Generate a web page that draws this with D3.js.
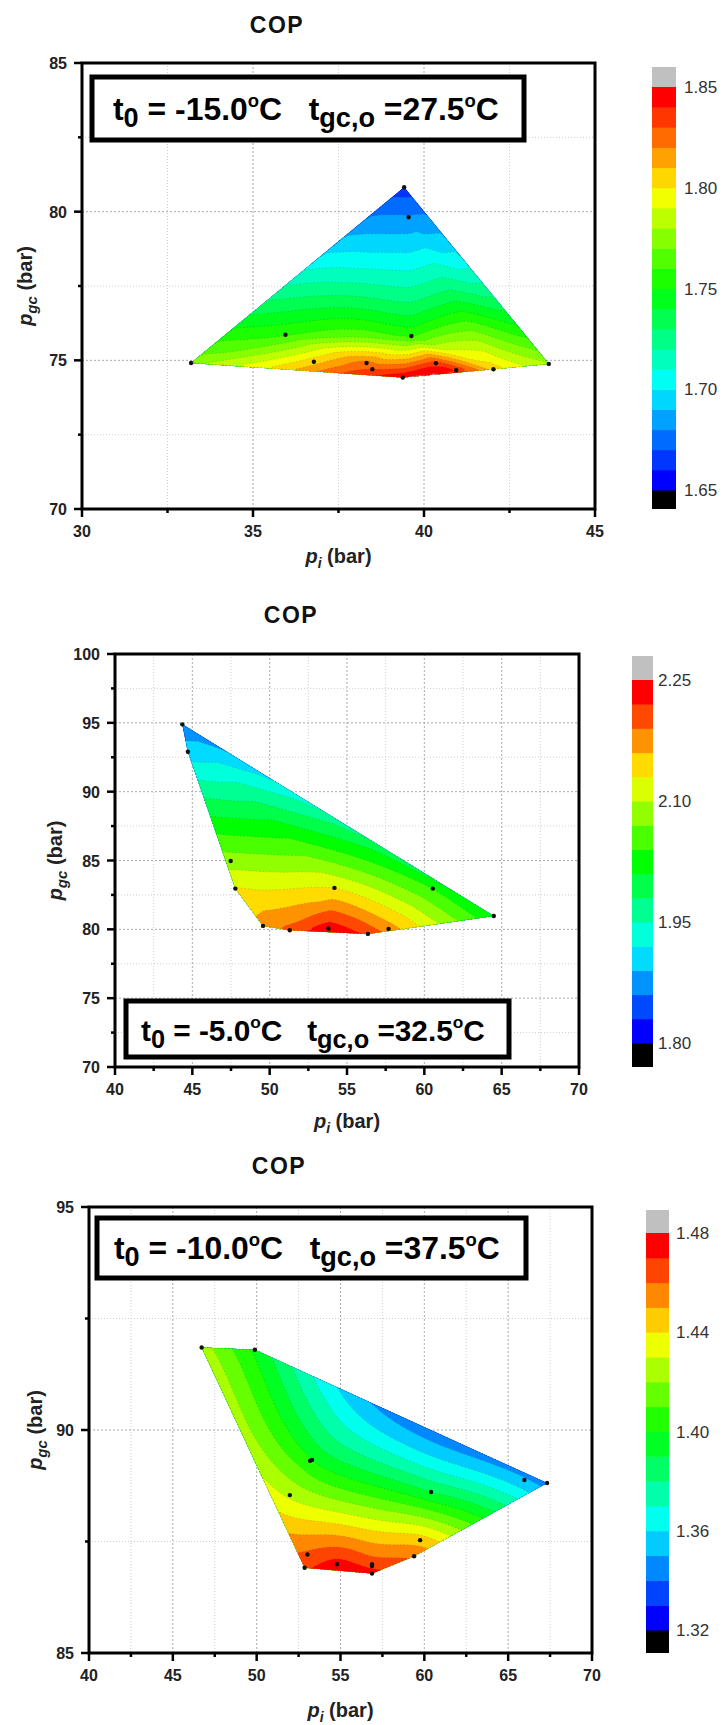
<!DOCTYPE html>
<html>
<head>
<meta charset="utf-8">
<script src="https://cdn.jsdelivr.net/npm/d3@7"></script>
<style>
  body { margin: 0; background: #fff; }
</style>
</head>
<body>
<script>
// ---- panel 1 : t0 = -15.0, tgc,o = 27.5 ----
var p1Pi  = [39.42, 39.55, 35.95, 39.63, 33.19, 36.78, 38.32, 38.49, 39.38, 40.35, 40.94, 42.03, 43.65];
var p1Pgc = [80.82, 79.81, 75.86, 75.82, 74.91, 74.95, 74.91, 74.70, 74.42, 74.90, 74.67, 74.70, 74.88];
var p1COP = [1.664, 1.681, 1.759, 1.759, 1.777, 1.806, 1.824, 1.830, 1.849, 1.836, 1.840, 1.806, 1.781];
var p1XTicks = [30, 35, 40, 45], p1XMinor = [32.5, 37.5, 42.5];
var p1YTicks = [70, 75, 80, 85], p1YMinor = [72.5, 77.5, 82.5];
var p1CbTicks = [1.65, 1.70, 1.75, 1.80, 1.85];

// ---- panel 2 : t0 = -5.0, tgc,o = 32.5 ----
var p2Pi  = [44.35, 44.71, 47.48, 47.78, 49.57, 51.30, 53.80, 56.35, 57.69, 54.19, 60.55, 64.49];
var p2Pgc = [94.89, 92.90, 84.96, 82.96, 80.25, 79.93, 80.06, 79.67, 80.03, 83.01, 82.96, 80.97];
var p2COP = [1.868, 1.905, 2.085, 2.132, 2.172, 2.200, 2.236, 2.212, 2.175, 2.130, 2.040, 2.015];
var p2XTicks = [40, 45, 50, 55, 60, 65, 70], p2XMinor = [42.5, 47.5, 52.5, 57.5, 62.5, 67.5];
var p2YTicks = [70, 75, 80, 85, 90, 95, 100], p2YMinor = [72.5, 77.5, 82.5, 87.5, 92.5, 97.5];
var p2CbTicks = [1.80, 1.95, 2.10, 2.25];

// ---- panel 3 : t0 = -10.0, tgc,o = 37.5 ----
var p3Pi  = [46.72, 49.89, 53.19, 53.30, 51.98, 60.40, 65.97, 67.32, 59.75, 59.39, 53.03, 52.86, 54.79, 56.88, 56.88, 56.88];
var p3Pgc = [91.85, 91.80, 89.31, 89.33, 88.54, 88.61, 88.88, 88.81, 87.53, 87.17, 87.21, 86.91, 86.99, 86.99, 86.95, 86.78];
var p3COP = [1.425, 1.398, 1.402, 1.400, 1.428, 1.390, 1.352, 1.345, 1.445, 1.458, 1.462, 1.468, 1.474, 1.466, 1.468, 1.474];
var p3XTicks = [40, 45, 50, 55, 60, 65, 70], p3XMinor = [42.5, 47.5, 52.5, 57.5, 62.5, 67.5];
var p3YTicks = [85, 90, 95], p3YMinor = [87.5, 92.5];
var p3CbTicks = [1.32, 1.36, 1.40, 1.44, 1.48];

var FONT = "'Liberation Sans', Arial, Helvetica, sans-serif";

// lin = share of the triangulated (linear) surface, the rest is a thin plate spline
var panels = [
  { pi: p1Pi, pgc: p1Pgc, cop: p1COP, xDom: [30, 45], yDom: [70, 85], lin: 0.6,
    xTicks: p1XTicks, xMinor: p1XMinor, yTicks: p1YTicks, yMinor: p1YMinor,
    cbDom: [1.65, 1.85], cbStep: 0.01, cbTicks: p1CbTicks, t0: "-15.0", tgc: "27.5",
    L: 82, R: 595, T: 63, B: 509, titleX: 277, titleY: 33,
    box: [92, 77, 524, 140], textX: 113, textW: 386, textY: 120, textSize: 32,
    cbX: 652, cbW: 24, cbTop: 67, cbHi: 87, cbLo: 490, cbBottom: 509, cbLabX: 684,
    yLabX: 25, xLabY: 563 },
  { pi: p2Pi, pgc: p2Pgc, cop: p2COP, xDom: [40, 70], yDom: [70, 100], lin: 0.5,
    xTicks: p2XTicks, xMinor: p2XMinor, yTicks: p2YTicks, yMinor: p2YMinor,
    cbDom: [1.80, 2.25], cbStep: 0.03, cbTicks: p2CbTicks, t0: "-5.0", tgc: "32.5",
    L: 115, R: 579, T: 654, B: 1067, titleX: 291, titleY: 623,
    box: [126, 1001, 509, 1057], textX: 141, textW: 344, textY: 1041, textSize: 30,
    cbX: 632, cbW: 21, cbTop: 656, cbHi: 680, cbLo: 1043, cbBottom: 1067, cbLabX: 658,
    yLabX: 55, xLabY: 1128 },
  { pi: p3Pi, pgc: p3Pgc, cop: p3COP, xDom: [40, 70], yDom: [85, 95], lin: 0,
    xTicks: p3XTicks, xMinor: p3XMinor, yTicks: p3YTicks, yMinor: p3YMinor,
    cbDom: [1.32, 1.48], cbStep: 0.01, cbTicks: p3CbTicks, t0: "-10.0", tgc: "37.5",
    L: 89, R: 592, T: 1207, B: 1653, titleX: 279, titleY: 1174,
    box: [97, 1218, 526, 1278], textX: 114, textW: 386, textY: 1259, textSize: 32,
    cbX: 646, cbW: 23, cbTop: 1210, cbHi: 1233, cbLo: 1630, cbBottom: 1653, cbLabX: 676,
    yLabX: 35, xLabY: 1717 }
];

var jet = d3.scaleLinear()
  .domain([0, 0.25, 0.5, 0.75, 1])
  .range(["#0000ff", "#00ffff", "#00ff00", "#ffff00", "#ff0000"]);

var svg = d3.select("body").append("svg")
  .attr("width", 724).attr("height", 1725)
  .style("font-family", FONT);

// thin plate spline through the measured points (screen coords / 100)
function fitTPS(pts, lam) {
  var n = pts.length, m = n + 3;
  var U = function(r2) { return r2 > 0 ? 0.5 * r2 * Math.log(r2) : 0; };
  var A = [];
  for (var i = 0; i < m; i++) A.push(new Float64Array(m + 1));
  for (i = 0; i < n; i++) {
    for (var j = 0; j < n; j++) {
      var dx = pts[i][0] - pts[j][0], dy = pts[i][1] - pts[j][1];
      A[i][j] = U(dx * dx + dy * dy) + (i === j ? lam : 0);
    }
    A[i][n] = 1; A[i][n + 1] = pts[i][0]; A[i][n + 2] = pts[i][1];
    A[n][i] = 1; A[n + 1][i] = pts[i][0]; A[n + 2][i] = pts[i][1];
    A[i][m] = pts[i][2];
  }
  for (var c = 0; c < m; c++) {
    var piv = c;
    for (var r = c + 1; r < m; r++) if (Math.abs(A[r][c]) > Math.abs(A[piv][c])) piv = r;
    var tmp = A[c]; A[c] = A[piv]; A[piv] = tmp;
    for (r = 0; r < m; r++) {
      if (r === c) continue;
      var f = A[r][c] / A[c][c];
      if (f === 0) continue;
      for (var k = c; k <= m; k++) A[r][k] -= f * A[c][k];
    }
  }
  var w = [];
  for (i = 0; i < m; i++) w.push(A[i][m] / A[i][i]);
  return function(x, y) {
    var s = w[n] + w[n + 1] * x + w[n + 2] * y;
    for (var i = 0; i < n; i++) {
      var dx = x - pts[i][0], dy = y - pts[i][1];
      s += w[i] * U(dx * dx + dy * dy);
    }
    return s;
  };
}

function drawPanel(P, idx) {
  var x = d3.scaleLinear().domain(P.xDom).range([P.L, P.R]);
  var y = d3.scaleLinear().domain(P.yDom).range([P.B, P.T]);
  var g = svg.append("g");

  // title
  g.append("text").attr("x", P.titleX).attr("y", P.titleY)
    .attr("text-anchor", "middle").attr("font-weight", "bold")
    .attr("font-size", 23).style("letter-spacing", "1.5px").attr("fill", "#111")
    .text("COP");

  // dotted grid
  P.xMinor.concat(P.xTicks).forEach(function(v) {
    if (v <= P.xDom[0] || v >= P.xDom[1]) return;
    var major = P.xTicks.indexOf(v) >= 0;
    g.append("line").attr("x1", x(v)).attr("x2", x(v)).attr("y1", P.T).attr("y2", P.B)
      .attr("stroke", major ? "#aaa" : "#cfcfcf").attr("stroke-width", 1)
      .attr("stroke-dasharray", major ? "2,2" : "1,2");
  });
  P.yMinor.concat(P.yTicks).forEach(function(v) {
    if (v <= P.yDom[0] || v >= P.yDom[1]) return;
    var major = P.yTicks.indexOf(v) >= 0;
    g.append("line").attr("y1", y(v)).attr("y2", y(v)).attr("x1", P.L).attr("x2", P.R)
      .attr("stroke", major ? "#aaa" : "#cfcfcf").attr("stroke-width", 1)
      .attr("stroke-dasharray", major ? "2,2" : "1,2");
  });

  // surface on a 2px grid: triangulated values blended with a spline
  var pts = P.pi.map(function(d, i) { return [x(d), y(P.pgc[i]), P.cop[i]]; });
  var tps = fitTPS(pts.map(function(p) { return [p[0] / 100, p[1] / 100, p[2]]; }), 0.0005);
  var step = 2;
  var nx = Math.floor((P.R - P.L) / step) + 1, ny = Math.floor((P.B - P.T) / step) + 1;
  var values = new Array(nx * ny);
  for (var j = 0; j < ny; j++)
    for (var i = 0; i < nx; i++)
      values[i + j * nx] = tps((P.L + i * step) / 100, (P.T + j * step) / 100);

  if (P.lin > 0) {
    var del = d3.Delaunay.from(pts, function(p) { return p[0]; }, function(p) { return p[1]; });
    var tri = del.triangles;
    for (var t = 0; t < tri.length; t += 3) {
      var a = pts[tri[t]], b = pts[tri[t + 1]], c = pts[tri[t + 2]];
      var den = (b[1] - c[1]) * (a[0] - c[0]) + (c[0] - b[0]) * (a[1] - c[1]);
      if (Math.abs(den) < 1e-9) continue;
      var i0 = Math.max(0, Math.floor((Math.min(a[0], b[0], c[0]) - P.L) / step));
      var i1 = Math.min(nx - 1, Math.ceil((Math.max(a[0], b[0], c[0]) - P.L) / step));
      var j0 = Math.max(0, Math.floor((Math.min(a[1], b[1], c[1]) - P.T) / step));
      var j1 = Math.min(ny - 1, Math.ceil((Math.max(a[1], b[1], c[1]) - P.T) / step));
      for (j = j0; j <= j1; j++) for (i = i0; i <= i1; i++) {
        var px = P.L + i * step, py = P.T + j * step;
        var l1 = ((b[1] - c[1]) * (px - c[0]) + (c[0] - b[0]) * (py - c[1])) / den;
        var l2 = ((c[1] - a[1]) * (px - c[0]) + (a[0] - c[0]) * (py - c[1])) / den;
        var l3 = 1 - l1 - l2;
        if (l1 < -1e-6 || l2 < -1e-6 || l3 < -1e-6) continue;
        var lv = l1 * a[2] + l2 * b[2] + l3 * c[2];
        var k = i + j * nx;
        values[k] = P.lin * lv + (1 - P.lin) * values[k];
      }
    }
  }

  var nb = Math.round((P.cbDom[1] - P.cbDom[0]) / P.cbStep);
  var levels = d3.range(nb + 1).map(function(k) { return +(P.cbDom[0] + k * P.cbStep).toFixed(4); });
  var bandColor = function(k) { return k >= nb ? "#c0c0c0" : jet(k / (nb - 1)); };

  var contours = d3.contours().size([nx, ny]).thresholds(levels)(values);
  var proj = d3.geoTransform({ point: function(px, py) {
    this.stream.point(P.L + (px - 0.5) * step, P.T + (py - 0.5) * step);
  }});
  var path = d3.geoPath(proj);

  var hull = d3.polygonHull(pts.map(function(p) { return [p[0], p[1]]; }));
  var hullD = "M" + hull.join("L") + "Z";
  svg.append("clipPath").attr("id", "hull" + idx).append("path").attr("d", hullD);

  var cg = g.append("g").attr("clip-path", "url(#hull" + idx + ")");
  cg.append("path").attr("d", hullD).attr("fill", "#000");
  cg.selectAll("path.band").data(contours).enter().append("path")
    .attr("class", "band")
    .attr("d", path)
    .attr("fill", function(d, k) { return bandColor(k); })
    .attr("stroke", "rgba(0,0,0,0.22)").attr("stroke-width", 0.7)
    .attr("stroke-dasharray", "1.5,2");
  g.append("path").attr("d", hullD).attr("fill", "none")
    .attr("stroke", "rgba(0,0,0,0.3)").attr("stroke-width", 0.8).attr("stroke-dasharray", "1.5,2");

  // data points
  g.selectAll("circle").data(pts).enter().append("circle")
    .attr("cx", function(p) { return p[0]; }).attr("cy", function(p) { return p[1]; })
    .attr("r", 2.2).attr("fill", "#111");

  // frame + ticks
  g.append("rect").attr("x", P.L).attr("y", P.T).attr("width", P.R - P.L).attr("height", P.B - P.T)
    .attr("fill", "none").attr("stroke", "#000").attr("stroke-width", 3);
  P.xTicks.forEach(function(v) {
    g.append("line").attr("x1", x(v)).attr("x2", x(v)).attr("y1", P.B).attr("y2", P.B + 8)
      .attr("stroke", "#000").attr("stroke-width", 2.5);
    g.append("text").attr("x", x(v)).attr("y", P.B + 28).attr("text-anchor", "middle")
      .attr("font-size", 16).attr("font-weight", "bold").attr("fill", "#222").text(v);
  });
  P.xMinor.forEach(function(v) {
    g.append("line").attr("x1", x(v)).attr("x2", x(v)).attr("y1", P.B).attr("y2", P.B + 4)
      .attr("stroke", "#000").attr("stroke-width", 2.5);
  });
  P.yTicks.forEach(function(v) {
    g.append("line").attr("x1", P.L - 8).attr("x2", P.L).attr("y1", y(v)).attr("y2", y(v))
      .attr("stroke", "#000").attr("stroke-width", 2.5);
    g.append("text").attr("x", P.L - 15).attr("y", y(v) + 6).attr("text-anchor", "end")
      .attr("font-size", 16).attr("font-weight", "bold").attr("fill", "#222").text(v);
  });
  P.yMinor.forEach(function(v) {
    g.append("line").attr("x1", P.L - 4).attr("x2", P.L).attr("y1", y(v)).attr("y2", y(v))
      .attr("stroke", "#000").attr("stroke-width", 2.5);
  });

  // axis titles
  var xt = g.append("text").attr("x", (P.L + P.R) / 2).attr("y", P.xLabY)
    .attr("text-anchor", "middle").attr("font-size", 20).attr("font-weight", "bold").attr("fill", "#222");
  xt.append("tspan").attr("font-style", "italic").text("p");
  xt.append("tspan").attr("font-style", "italic").attr("font-size", 14).attr("dy", 5).text("i");
  xt.append("tspan").attr("dy", -5).text(" (bar)");
  var yt = g.append("text").attr("transform", "translate(" + (P.yLabX + 7) + "," + ((P.T + P.B) / 2) + ") rotate(-90)")
    .attr("text-anchor", "middle").attr("font-size", 20).attr("font-weight", "bold").attr("fill", "#222");
  yt.append("tspan").attr("font-style", "italic").text("p");
  yt.append("tspan").attr("font-style", "italic").attr("font-size", 15).attr("dy", 5).text("gc");
  yt.append("tspan").attr("dy", -5).text(" (bar)");

  // condition box
  g.append("rect").attr("x", P.box[0]).attr("y", P.box[1])
    .attr("width", P.box[2] - P.box[0]).attr("height", P.box[3] - P.box[1])
    .attr("fill", "#fff").attr("stroke", "#000").attr("stroke-width", 5);
  var fs = P.textSize, sub = fs * 0.22, sup = fs * 0.42;
  var txt = g.append("text").attr("font-weight", "bold").attr("font-size", fs)
    .attr("fill", "#000").style("white-space", "pre");
  txt.append("tspan").text("t");
  txt.append("tspan").attr("dy", sub).attr("font-size", fs * 0.85).text("0");
  txt.append("tspan").attr("dy", -sub).text(" = " + P.t0);
  txt.append("tspan").attr("dy", -sup).attr("font-size", fs * 0.58).text("o");
  txt.append("tspan").attr("dy", sup).text("C   t");
  txt.append("tspan").attr("dy", sub).attr("font-size", fs * 0.85).text("gc,o");
  txt.append("tspan").attr("dy", -sub).text(" =" + P.tgc);
  txt.append("tspan").attr("dy", -sup).attr("font-size", fs * 0.58).text("o");
  txt.append("tspan").attr("dy", sup).text("C");
  var tw = txt.node().getBBox().width;
  txt.attr("transform", "translate(" + P.textX + "," + P.textY + ") scale(" + (P.textW / tw) + ",1)");

  // colour bar
  var cb = d3.scaleLinear().domain(P.cbDom).range([P.cbLo, P.cbHi]);
  var cg2 = g.append("g");
  cg2.append("rect").attr("x", P.cbX).attr("width", P.cbW)
    .attr("y", P.cbTop).attr("height", cb(P.cbDom[1]) - P.cbTop).attr("fill", "#c0c0c0");
  cg2.append("rect").attr("x", P.cbX).attr("width", P.cbW)
    .attr("y", cb(P.cbDom[0])).attr("height", P.cbBottom - cb(P.cbDom[0])).attr("fill", "#000");
  cg2.selectAll("rect.lev").data(levels.slice(0, nb)).enter().append("rect")
    .attr("class", "lev").attr("x", P.cbX).attr("width", P.cbW)
    .attr("y", function(d, k) { return cb(levels[k + 1]); })
    .attr("height", function(d, k) { return cb(levels[k]) - cb(levels[k + 1]) + 0.5; })
    .attr("fill", function(d, k) { return bandColor(k); });
  P.cbTicks.forEach(function(v) {
    cg2.append("text").attr("x", P.cbLabX).attr("y", cb(v) + 6)
      .attr("font-size", 17).attr("fill", "#333").text(v.toFixed(2));
  });
}

panels.forEach(drawPanel);
</script>
</body>
</html>
